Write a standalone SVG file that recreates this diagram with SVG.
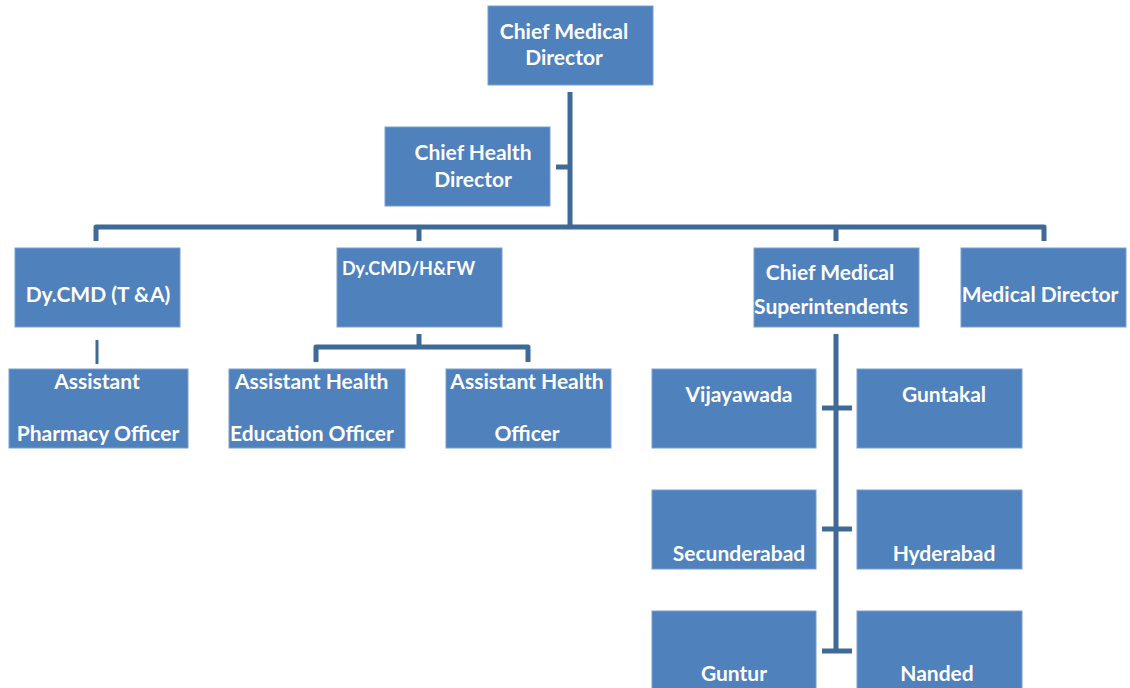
<svg xmlns="http://www.w3.org/2000/svg" width="1130" height="688" viewBox="0 0 1130 688">
<style>
.box{fill:#4f81bd;stroke:#7a9fcd;stroke-width:1}
.t{font-family:Lato,"Liberation Sans",sans-serif;font-weight:bold;font-size:21px;fill:#ffffff}
.c{text-anchor:middle}
.ln{fill:none;stroke:#3f6a98;stroke-width:5;stroke-linejoin:round}
.thin{fill:none;stroke:#3f6a98;stroke-width:3}
</style>
<rect width="1130" height="688" fill="#ffffff"/>
<g id="connectors">
<path class="ln" d="M570 92 V227"/>
<path class="ln" d="M556 167 H570"/>
<path class="ln" d="M96 241 V227 H1044 V241"/>
<path class="ln" d="M419 227 V241"/>
<path class="ln" d="M836 227 V241"/>
<path class="thin" d="M97 340 V364"/>
<path class="ln" d="M419 334 V347"/>
<path class="ln" d="M316 362 V347 H528 V362"/>
<path class="ln" d="M836 334 V651"/>
<path class="ln" d="M822 408 H852"/>
<path class="ln" d="M822 529 H852"/>
<path class="ln" d="M822 651 H852"/>
</g>
<g id="cmd"><rect class="box" x="488" y="6" width="165" height="79"/><text class="t c" x="564" y="39">Chief Medical</text><text class="t c" x="564" y="65">Director</text></g>
<g id="chd"><rect class="box" x="385" y="127" width="165" height="79"/><text class="t c" x="473" y="160">Chief Health</text><text class="t c" x="473" y="187">Director</text></g>
<g id="dycmd-ta"><rect class="box" x="15" y="248" width="165" height="79"/><text class="t c" x="98" y="302">Dy.CMD (T &amp;A)</text></g>
<g id="dycmd-hfw"><rect class="box" x="337" y="248" width="165" height="79"/><text class="t" x="342" y="275" style="font-size:18px">Dy.CMD/H&amp;FW</text></g>
<g id="cms"><rect class="box" x="754" y="248" width="165" height="79"/><text class="t c" x="830" y="280">Chief Medical</text><text class="t c" x="831" y="314">Superintendents</text></g>
<g id="md"><rect class="box" x="961" y="248" width="165" height="79"/><text class="t c" x="1040" y="302">Medical Director</text></g>
<g id="apo"><rect class="box" x="9" y="369" width="179" height="79"/><text class="t c" x="97" y="389">Assistant</text><text class="t c" x="98" y="441">Pharmacy Officer</text></g>
<g id="aheo"><rect class="box" x="229" y="369" width="176" height="79"/><text class="t" x="235" y="389">Assistant Health</text><text class="t" x="230" y="441">Education Officer</text></g>
<g id="aho"><rect class="box" x="446" y="369" width="165" height="79"/><text class="t c" x="527" y="389">Assistant Health</text><text class="t c" x="527" y="441">Officer</text></g>
<g id="vijayawada"><rect class="box" x="652" y="369" width="164" height="79"/><text class="t c" x="739" y="402">Vijayawada</text></g>
<g id="guntakal"><rect class="box" x="857" y="369" width="165" height="79"/><text class="t c" x="944" y="402">Guntakal</text></g>
<g id="secunderabad"><rect class="box" x="652" y="490" width="164" height="79"/><text class="t c" x="739" y="561">Secunderabad</text></g>
<g id="hyderabad"><rect class="box" x="857" y="490" width="165" height="79"/><text class="t c" x="944" y="561">Hyderabad</text></g>
<g id="guntur"><rect class="box" x="652" y="611" width="164" height="79"/><text class="t c" x="734" y="681">Guntur</text></g>
<g id="nanded"><rect class="box" x="857" y="611" width="165" height="79"/><text class="t c" x="937" y="681">Nanded</text></g>
</svg>
